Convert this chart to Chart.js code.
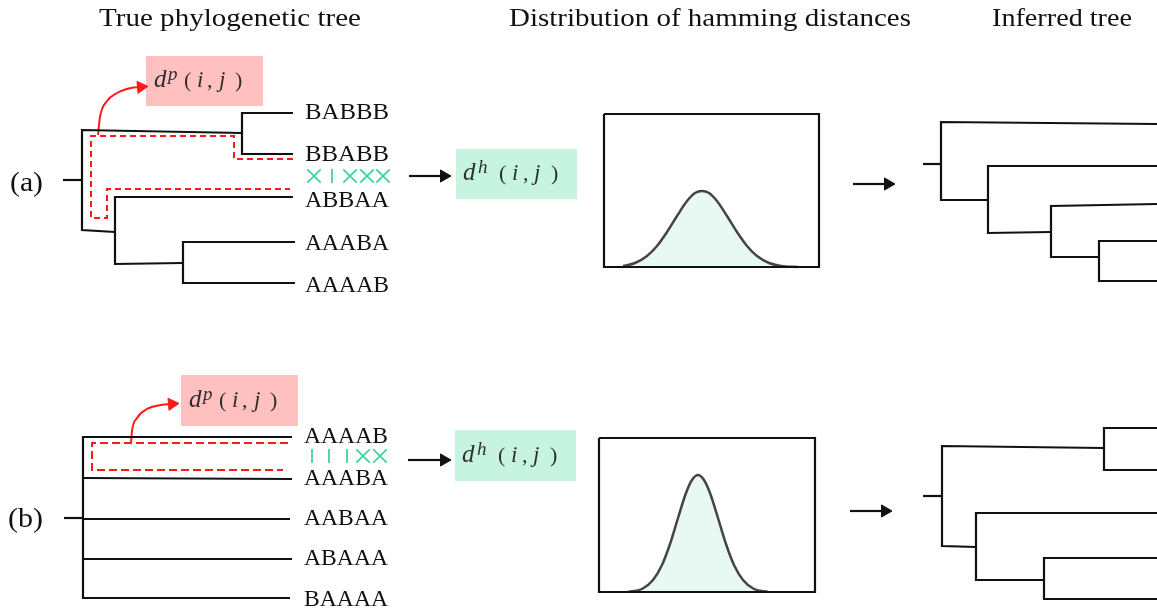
<!DOCTYPE html>
<html>
<head>
<meta charset="utf-8">
<script src="https://cdn.jsdelivr.net/npm/chart.js@4.4.0/dist/chart.umd.min.js"></script>
<style>
  html, body { margin: 0; padding: 0; background: #fff; }
  #wrap { width: 1157px; height: 611px; position: relative; }
</style>
</head>
<body>
<div id="wrap"><canvas id="fig"></canvas></div>
<script>
// ---- data ----
const panelTitles = ['True phylogenetic tree', 'Distribution of hamming distances', 'Inferred tree'];
const rowLabels = ['(a)', '(b)'];
const leavesA = ['BABBB', 'BBABB', 'ABBAA', 'AAABA', 'AAAAB'];
const leavesB = ['AAAAB', 'AAABA', 'AABAA', 'ABAAA', 'BAAAA'];
// per-site comparison of the highlighted pair: x = differs, | = same
const marksA = ['x', '|', 'x', 'x', 'x'];
const marksB = ['|', '|', '|', 'x', 'x'];
// hamming distance curves: offset from the peak and height above baseline
const distOffsA = [-79, -67, -55, -45, -35, -25, -15, -7, 0, 7, 15, 25, 35, 45, 55, 67, 79, 96];
const distHA    = [1, 4, 11, 21, 35, 51, 66, 74, 76, 74, 66, 51, 35, 21, 11, 4, 1, 0];
const distOffsB = [-70, -56, -45, -36, -28, -20, -12, -6, 0, 6, 12, 20, 28, 36, 45, 56, 70];
const distHB    = [0, 3, 12, 27, 48, 74, 99, 112, 117, 112, 99, 74, 48, 27, 12, 3, 0];

// ---- layout (figure coordinates, y down) ----
const W = 1157, H = 611;
const treeA = [
  [[63, 180], [82, 180]],
  [[242, 133], [82, 130], [82, 230], [115, 232]],
  [[293, 113], [242, 113], [242, 154], [293, 154]],
  [[293, 197], [115, 197], [115, 264], [183, 263]],
  [[295, 242], [183, 242], [183, 283], [295, 283]]
];
const treeB = [
  [[64, 518], [83, 518]],
  [[292, 437], [83, 437], [83, 598], [290, 598]],
  [[292, 479], [83, 478]],
  [[290, 519], [83, 519]],
  [[292, 559], [83, 559]]
];
const inferA = [
  [[923, 164], [941, 164]],
  [[1157, 124], [941, 122], [941, 200], [988, 200]],
  [[1157, 166], [988, 166], [988, 233], [1051, 232]],
  [[1157, 204], [1051, 206], [1051, 257], [1099, 257]],
  [[1157, 241], [1099, 241], [1099, 281], [1157, 281]]
];
const inferB = [
  [[923, 496], [942, 496]],
  [[1104, 448], [942, 446], [942, 546], [976, 547]],
  [[1157, 428], [1104, 428], [1104, 470], [1157, 470]],
  [[1157, 513], [976, 513], [976, 580], [1044, 580]],
  [[1157, 558], [1044, 558], [1044, 599], [1157, 599]]
];
const pathA = [[293, 159], [234, 159], [234, 136], [91, 136], [91, 218], [107, 218], [107, 189], [290, 189]];
const pathB = [[288, 443], [92, 443], [92, 470], [283, 470]];
const curveA = [[98, 135], [100, 117], [107, 101], [117, 93], [131, 88], [140, 87]];
const curveB = [[131, 443], [132, 431], [137, 418], [147, 409], [161, 405], [171, 404]];
const redHeads = [[141, 87, 85], [172, 404, 85]];
const blackArrows = [[409, 448, 176], [853, 892, 184], [408, 448, 460], [850, 889, 511]];
const pinkBoxes = [[146, 56, 263, 106], [181, 375, 298, 426]];
const greenBoxes = [[456, 149, 577, 199], [455, 430, 576, 481]];
const distBoxes = [[604, 114, 819, 267], [599, 438, 815, 592]];
const distPeaks = [[702, 267], [698, 592]];
const leafX = 305, leafW = 84;
const leafBaseA = [119, 161, 207, 250, 292];
const leafBaseB = [443, 485, 525, 565, 606];
const markXA = [314, 332, 350, 367, 383], markYA = 176;
const markXB = [312, 329, 347, 363, 380], markYB = 456;

const BLACK = '#111';
const RED = '#ff1a1a';
const MINT = '#3dd49c';
const pts = arr => arr.map(p => ({ x: p[0], y: p[1] }));

const datasets = [];
function seg(points, opts) {
  datasets.push(Object.assign({
    data: pts(points), showLine: true, pointRadius: 0, borderColor: BLACK,
    borderWidth: 2.2, fill: false, order: 2, tension: 0
  }, opts || {}));
}

// coloured boxes (filled down to the bottom edge)
pinkBoxes.forEach(b => seg([[b[0], b[1]], [b[2], b[1]]], { borderWidth: 0, borderColor: 'rgba(0,0,0,0)', backgroundColor: '#ffc0c0', fill: { value: b[3] }, order: 10 }));
greenBoxes.forEach(b => seg([[b[0], b[1]], [b[2], b[1]]], { borderWidth: 0, borderColor: 'rgba(0,0,0,0)', backgroundColor: '#c6f4e0', fill: { value: b[3] }, order: 10 }));

// distribution panels
distBoxes.forEach(b => seg([[b[0], b[1]], [b[2], b[1]], [b[2], b[3]], [b[0], b[3]], [b[0], b[1]]], { order: 3 }));
[[distOffsA, distHA], [distOffsB, distHB]].forEach((d, k) => {
  const [px, base] = distPeaks[k];
  seg(d[0].map((o, i) => [px + o, base - d[1][i]]), {
    borderColor: '#454545', borderWidth: 2.5, backgroundColor: '#e8f8f2',
    fill: { value: base }, cubicInterpolationMode: 'monotone', order: 4
  });
});

// trees
[treeA, treeB, inferA, inferB].forEach(t => t.forEach(p => seg(p)));

// dashed red paths and curved arrows
seg(pathA, { borderColor: RED, borderDash: [6, 4], borderWidth: 2 });
seg(pathB, { borderColor: RED, borderDash: [8, 4], borderWidth: 2 });
seg(curveA, { borderColor: RED, borderWidth: 2, cubicInterpolationMode: 'monotone' });
seg(curveB, { borderColor: RED, borderWidth: 2, cubicInterpolationMode: 'monotone' });

// black arrows shafts
blackArrows.forEach(a => seg([[a[0], a[2]], [a[1] - 8, a[2]]]));

// arrow heads
datasets.push({
  data: blackArrows.map(a => ({ x: a[1] - 4, y: a[2] })).concat(redHeads.map(h => ({ x: h[0], y: h[1] }))),
  showLine: false, pointStyle: 'triangle', pointRadius: 7,
  rotation: blackArrows.map(() => 90).concat(redHeads.map(h => h[2])),
  backgroundColor: blackArrows.map(() => BLACK).concat(redHeads.map(() => RED)),
  borderColor: blackArrows.map(() => BLACK).concat(redHeads.map(() => RED)),
  borderWidth: 1, order: 0
});

// site comparison marks
const markPts = [];
marksA.forEach((m, i) => markPts.push({ x: markXA[i], y: markYA, m }));
marksB.forEach((m, i) => markPts.push({ x: markXB[i], y: markYB, m }));
datasets.push({
  data: markPts, showLine: false,
  pointStyle: markPts.map(p => p.m === 'x' ? 'crossRot' : 'line'),
  rotation: markPts.map(p => p.m === 'x' ? 0 : 90),
  pointRadius: markPts.map(p => p.m === 'x' ? 9.5 : 7),
  borderColor: MINT, borderWidth: 1.8, order: 0
});

function fitText(ctx, str, x, y, w, font, color) {
  ctx.font = font;
  const m = ctx.measureText(str).width;
  ctx.save();
  ctx.translate(x, y);
  if (w) ctx.scale(w / m, 1);
  ctx.fillStyle = color || BLACK;
  ctx.textBaseline = 'alphabetic';
  ctx.textAlign = 'left';
  ctx.fillText(str, 0, 0);
  ctx.restore();
}

const SERIF = '"Liberation Serif", "Times New Roman", serif';
const mathOffsP = [8, 22, 38, 51, 61, 73, 89];
const mathOffsH = [7, 22, 43, 56, 67, 78, 95];

const textPlugin = {
  id: 'texts',
  afterDatasetsDraw(chart) {
    const ctx = chart.ctx;
    const X = v => chart.scales.x.getPixelForValue(v);
    const Y = v => chart.scales.y.getPixelForValue(v);
    ctx.save();
    const titlePos = [[99, 361], [509, 911], [992, 1132]];
    panelTitles.forEach((t, i) => fitText(ctx, t, X(titlePos[i][0]), Y(26), titlePos[i][1] - titlePos[i][0], '26px ' + SERIF));
    fitText(ctx, rowLabels[0], X(10), Y(191), 33, '28px ' + SERIF);
    fitText(ctx, rowLabels[1], X(8), Y(527), 35, '28px ' + SERIF);
    leavesA.forEach((s, i) => fitText(ctx, s, X(leafX), Y(leafBaseA[i]), leafW, '24px ' + SERIF));
    leavesB.forEach((s, i) => fitText(ctx, s, X(leafX - 1), Y(leafBaseB[i]), leafW, '24px ' + SERIF));

    function mathLabel(box, sup, offs) {
      const left = box[0], base = (box[1] + box[3]) / 2 + 6;
      const col = 'rgba(20,20,20,0.88)';
      const parts = [
        ['d', 'italic 25px ' + SERIF, 0],
        [sup, 'italic 19px ' + SERIF, -7],
        ['(', '22px ' + SERIF, 0],
        ['i', 'italic 23px ' + SERIF, 0],
        [',', '22px ' + SERIF, 0],
        ['j', 'italic 23px ' + SERIF, 0],
        [')', '22px ' + SERIF, 0]
      ];
      parts.forEach((p, i) => fitText(ctx, p[0], X(left + offs[i]), Y(base + p[2]), null, p[1], col));
    }
    pinkBoxes.forEach(b => mathLabel(b, 'p', mathOffsP));
    greenBoxes.forEach(b => mathLabel(b, 'h', mathOffsH));
    ctx.restore();
  }
};

new Chart(document.getElementById('fig'), {
  type: 'scatter',
  data: { datasets },
  options: {
    responsive: true,
    maintainAspectRatio: false,
    animation: false,
    events: [],
    layout: { padding: 0, autoPadding: false },
    plugins: { legend: { display: false }, tooltip: { enabled: false } },
    scales: {
      x: { type: 'linear', min: 0, max: W, display: false },
      y: { type: 'linear', min: 0, max: H, reverse: true, display: false }
    }
  },
  plugins: [textPlugin]
});
</script>
</body>
</html>
